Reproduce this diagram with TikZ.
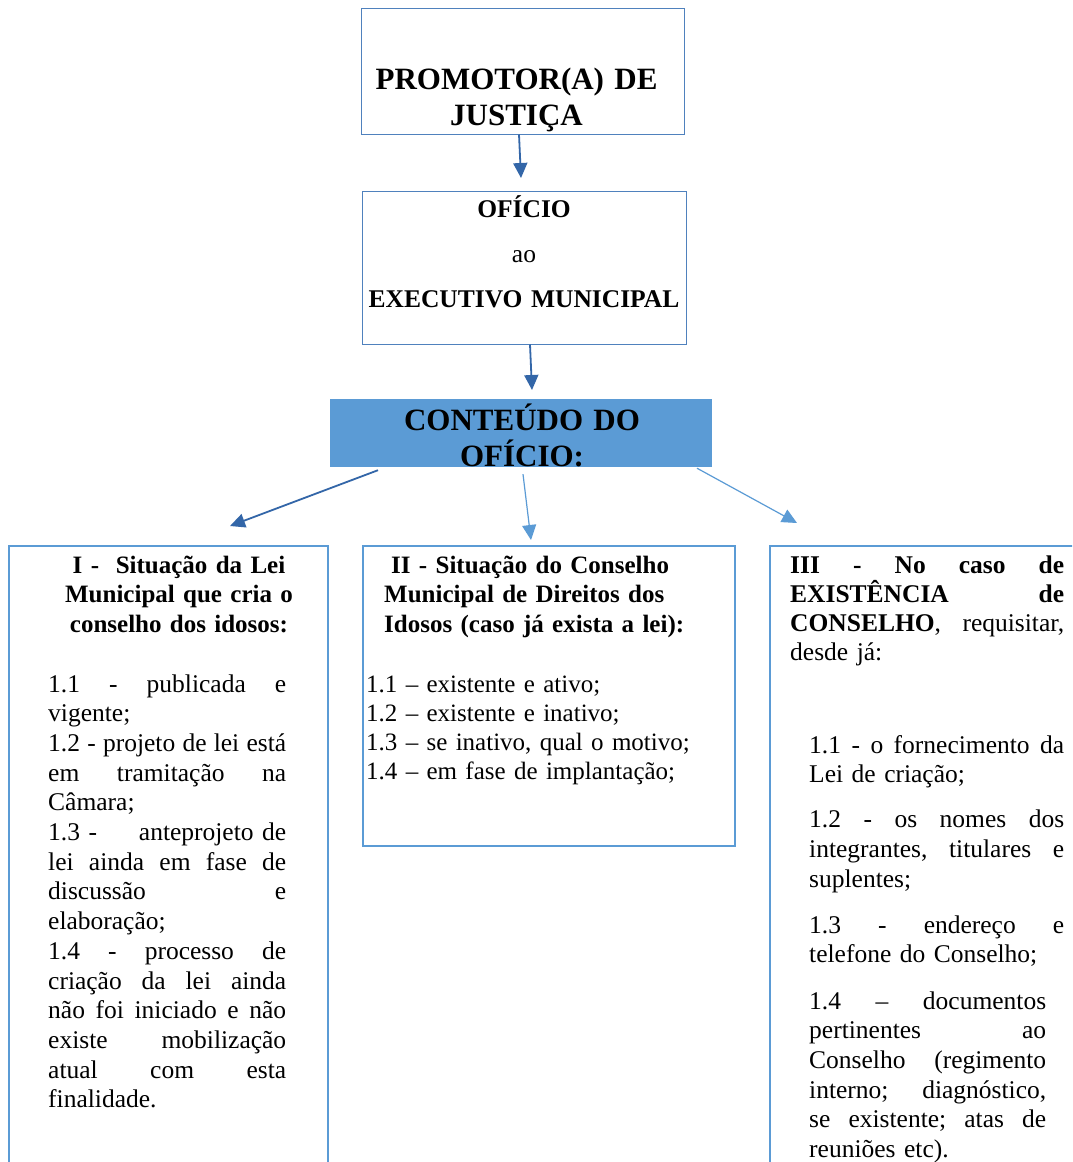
\documentclass[tikz,border=0pt]{standalone}
\usepackage{fontspec}
\setmainfont{Liberation Serif}
\usetikzlibrary{arrows.meta}
\definecolor{lblue}{HTML}{5B9BD5}
\definecolor{dblue}{HTML}{3366A8}
\definecolor{tblue}{HTML}{4F81BD}
\begin{document}
\begin{tikzpicture}[x=1pt,y=-1pt,
  topbox/.style={draw=tblue, line width=1pt, inner sep=0pt},
  listbox/.style={draw=lblue, line width=2.2pt, inner sep=0pt},
  darrow/.style={draw=dblue, line width=1.8pt, -{Triangle[length=15pt,width=14pt]}},
  larrow/.style={draw=lblue, line width=1.2pt, -{Triangle[length=15pt,width=14pt]}},
  bigtxt/.style={inner sep=0pt, anchor=base, align=center, font=\fontsize{31}{36}\selectfont\bfseries},
  bodytxt/.style={inner sep=0pt, font=\fontsize{25.5}{29.7}\selectfont},
]
\clip (0,0) rectangle (1072,1162);
\fill[white] (0,0) rectangle (1072,1162);

% top boxes
\node[topbox, minimum width=323pt, minimum height=126pt] (prom) at (522.5,71) {};
\node[bigtxt, text width=320pt] (promt) at (516.5,89) {PROMOTOR(A) DE\\JUSTIÇA};

\node[topbox, minimum width=324pt, minimum height=153pt] (ofi) at (524,267.5) {};
\node[bodytxt, anchor=base, align=center, text width=320pt, font=\fontsize{25.5}{30}\selectfont] (ofit) at (524,217)
  {\textbf{OFÍCIO}\\[15pt]ao\\[15pt]\textbf{EXECUTIVO MUNICIPAL}};

\node[fill=lblue, minimum width=382pt, minimum height=68pt, inner sep=0pt] (cont) at (521,433) {};
\node[bigtxt, text width=380pt] (contt) at (522,430) {CONTEÚDO DO\\OFÍCIO:};

% bottom boxes
\node[listbox, minimum width=319pt, minimum height=640pt] (b1) at (168.5,866) {};
\node[listbox, minimum width=372pt, minimum height=300pt] (b2) at (549,696) {};
\node[listbox, minimum width=320pt, minimum height=640pt] (b3) at (930,866) {};

% arrows
\coordinate (a1) at (521,178);
\coordinate (a2) at (532,390);
\coordinate (a3) at (230,526);
\coordinate (a4) at (531,540);
\coordinate (a5) at (797,523);
\draw[darrow] ([xshift=-3.5pt]prom.south) -- (a1);
\draw[darrow] ([xshift=6pt]ofi.south) -- (a2);
\draw[darrow] ([shift={(-143,3)}]cont.south) -- (a3);
\draw[larrow] ([shift={(2,7)}]cont.south) -- (a4);
\draw[larrow] ([shift={(176,1)}]cont.south) -- (a5);

% box I text
\node[bodytxt, anchor=base, align=center, text width=300pt, font=\fontsize{25}{29.5}\selectfont\bfseries] (h1) at (179,573)
  {I -\ \ Situação da Lei\\Municipal que cria o\\conselho dos idosos:};
\node[bodytxt, anchor=base west, align=left, text width=238pt] (t1) at (48,692)
  {1.1\hfill -\hfill publicada\hfill e\\
   vigente;\\
   1.2\hfill -\hfill projeto\hfill de\hfill lei\hfill está\\
   em\hfill tramitação\hfill na\\
   Câmara;\\
   1.3 - \hfill anteprojeto de\\
   lei\hfill ainda\hfill em\hfill fase\hfill de\\
   discussão\hfill e\\
   elaboração;\\
   1.4\hfill -\hfill processo\hfill de\\
   criação\hfill da\hfill lei\hfill ainda\\
   não\hfill foi\hfill iniciado\hfill e\hfill não\\
   existe\hfill mobilização\\
   atual\hfill com\hfill esta\\
   finalidade.};

% box II text
\node[bodytxt, anchor=base west, align=left, text width=340pt, font=\fontsize{25}{29.5}\selectfont\bfseries] (h2) at (384,573)
  {\hspace*{7pt}II - Situação do Conselho\\Municipal de Direitos dos\\Idosos (caso já exista a lei):};
\node[bodytxt, anchor=base west, align=left, text width=360pt, font=\fontsize{25}{29}\selectfont] (t2) at (366,692)
  {1.1 – existente e ativo;\\
   1.2 – existente e inativo;\\
   1.3 – se inativo, qual o motivo;\\
   1.4 – em fase de implantação;};

% box III text
\node[bodytxt, anchor=base west, align=left, text width=274pt, font=\fontsize{25.5}{29.3}\selectfont] (h3) at (790,573)
  {\textbf{III\hfill -\hfill No\hfill caso\hfill de}\\
   \textbf{EXISTÊNCIA\hfill de}\\
   \textbf{CONSELHO},\hfill requisitar,\\
   desde já:};
\node[bodytxt, anchor=base west, align=left, text width=255pt] (t3) at (809,753)
  {1.1\hfill -\hfill o\hfill fornecimento\hfill da\\
   Lei de criação;\\[15.5pt]
   1.2\hfill -\hfill os\hfill nomes\hfill dos\\
   integrantes,\hfill titulares\hfill e\\
   suplentes;\\[16pt]
   1.3\hfill -\hfill endereço\hfill e\\
   telefone do Conselho;};
\node[bodytxt, anchor=base west, align=left, text width=237pt] (t4) at (809,1009)
  {1.4\hfill –\hfill documentos\\
   pertinentes\hfill ao\\
   Conselho\hfill (regimento\\
   interno;\hfill diagnóstico,\\
   se\hfill existente;\hfill atas\hfill de\\
   reuniões etc).};
\end{tikzpicture}
\end{document}
